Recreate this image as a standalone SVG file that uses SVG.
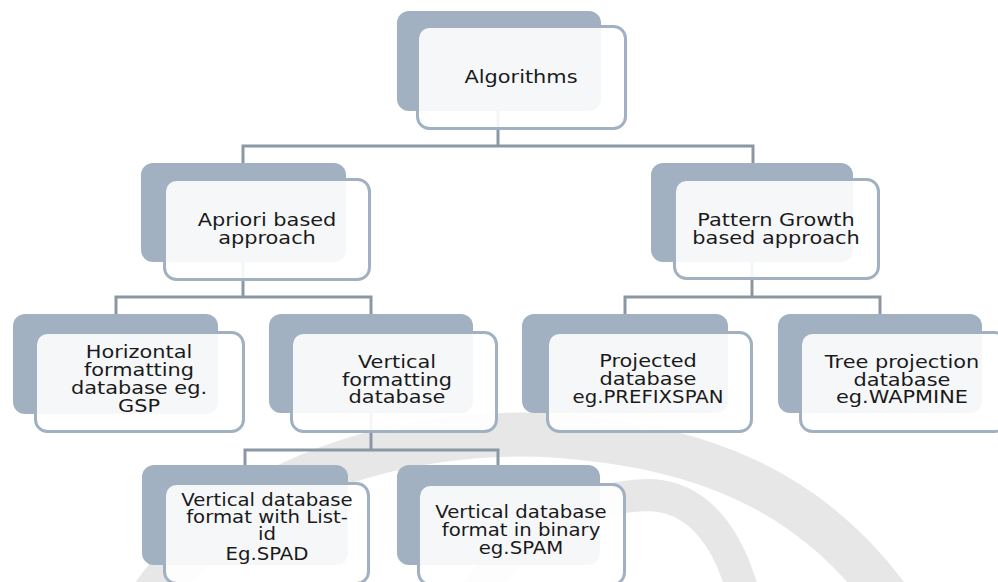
<svg xmlns="http://www.w3.org/2000/svg" width="998" height="582" viewBox="0 0 998 582">
<style>
.bg{fill:#ffffff}
.wm{fill:none;stroke:#e7e7e7;stroke-linecap:butt}
.back{fill:#a2b1c1}
.front{fill:#ffffff;fill-opacity:0.9;stroke:#a2b1c1;stroke-width:3}
.conn{fill:none;stroke:#8b97a5;stroke-width:3}
.t{font-family:"DejaVu Sans","Verdana",sans-serif;font-size:18px;fill:#1a1a1a;text-anchor:middle}
.s{font-size:17px}
</style>
<rect class="bg" x="0" y="0" width="998" height="582"/>
<g id="watermark">
<path class="wm" stroke-width="44" d="M150 600 C230 480 400 425 560 436 C700 446 810 490 890 600"/>
<path class="wm" stroke-width="32" d="M470 600 C520 530 590 495 650 495 C700 497 730 540 745 600"/>
</g>
<g id="connectors">
<path class="conn" d="M498 111 V146 M243 146 H753 M243 144.5 V163 M753 144.5 V163"/>
<path class="conn" d="M243 262 V297 M116 297 H371 M116 295.5 V314 M371 295.5 V314"/>
<path class="conn" d="M752 262 V297 M625 297 H880 M625 295.5 V314 M880 295.5 V314"/>
<path class="conn" d="M371 413 V450 M245 450 H498 M245 448.5 V465 M498 448.5 V465"/>
</g>
<g id="algorithms">
<rect class="back" x="397" y="11" width="204" height="100" rx="12"/>
<rect class="front" x="417.5" y="26.5" width="208" height="102" rx="12"/>
<text class="t" transform="translate(521 83) scale(1.16 1)">Algorithms</text>
</g>
<g id="apriori">
<rect class="back" x="141" y="163" width="205" height="99" rx="12"/>
<rect class="front" x="164.5" y="179.5" width="205" height="100" rx="12"/>
<text class="t" transform="translate(267 226) scale(1.16 1)"><tspan x="0" y="0">Apriori based</tspan><tspan x="0" y="18">approach</tspan></text>
</g>
<g id="pattern-growth">
<rect class="back" x="651" y="163" width="202" height="99" rx="12"/>
<rect class="front" x="674.5" y="179.5" width="204" height="99" rx="12"/>
<text class="t" transform="translate(776 226) scale(1.16 1)"><tspan x="0" y="0">Pattern Growth</tspan><tspan x="0" y="18">based approach</tspan></text>
</g>
<g id="horizontal">
<rect class="back" x="13" y="314" width="205" height="100" rx="12"/>
<rect class="front" x="35.5" y="332.5" width="208" height="99" rx="12"/>
<text class="t" transform="translate(139 358) scale(1.16 1)"><tspan x="0" y="0">Horizontal</tspan><tspan x="0" y="18">formatting</tspan><tspan x="0" y="36">database eg.</tspan><tspan x="0" y="54">GSP</tspan></text>
</g>
<g id="vertical-formatting">
<rect class="back" x="269" y="314" width="204" height="99" rx="12"/>
<rect class="front" x="291.5" y="332.5" width="205" height="99" rx="12"/>
<text class="t" transform="translate(397 368) scale(1.16 1)"><tspan x="0" y="0">Vertical</tspan><tspan x="0" y="18">formatting</tspan><tspan x="0" y="35">database</tspan></text>
</g>
<g id="projected">
<rect class="back" x="522" y="314" width="206" height="99" rx="12"/>
<rect class="front" x="547.5" y="332.5" width="204" height="99" rx="12"/>
<text class="t" transform="translate(648 367) scale(1.16 1)"><tspan x="0" y="0">Projected</tspan><tspan x="0" y="18">database</tspan><tspan x="0" y="36" class="s">eg.PREFIXSPAN</tspan></text>
</g>
<g id="tree-projection">
<rect class="back" x="778" y="314" width="204" height="99" rx="12"/>
<rect class="front" x="800.5" y="332.5" width="206" height="99" rx="12"/>
<text class="t" transform="translate(902 368) scale(1.16 1)"><tspan x="0" y="0">Tree projection</tspan><tspan x="0" y="18">database</tspan><tspan x="0" y="35">eg.WAPMINE</tspan></text>
</g>
<g id="list-id">
<rect class="back" x="142" y="465" width="206" height="100" rx="12"/>
<rect class="front" x="164.5" y="483.5" width="204" height="100" rx="12"/>
<text class="t s" transform="translate(267 506) scale(1.16 1)"><tspan x="0" y="0">Vertical database</tspan><tspan x="0" y="17">format with List-</tspan><tspan x="0" y="34">id</tspan><tspan x="0" y="54">Eg.SPAD</tspan></text>
</g>
<g id="binary">
<rect class="back" x="397" y="465" width="203" height="100" rx="12"/>
<rect class="front" x="418.5" y="484.5" width="206" height="100" rx="12"/>
<text class="t s" transform="translate(521 518) scale(1.16 1)"><tspan x="0" y="0">Vertical database</tspan><tspan x="0" y="18">format in binary</tspan><tspan x="0" y="36">eg.SPAM</tspan></text>
</g>
</svg>
